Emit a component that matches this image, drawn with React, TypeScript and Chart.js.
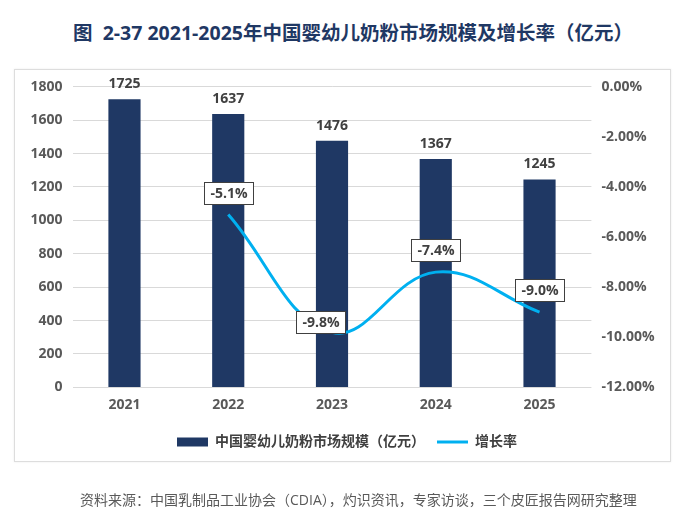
import React, { useEffect, useRef } from 'react';
import { Chart, registerables } from 'chart.js';

Chart.register(...registerables);

const titleText = '图  2-37 2021-2025年中国婴幼儿奶粉市场规模及增长率（亿元）';
const sourceText = '资料来源：中国乳制品工业协会（CDIA），灼识资讯，专家访谈，三个皮匠报告网研究整理';

const categories = ['2021', '2022', '2023', '2024', '2025'];
const marketSize = [1725, 1637, 1476, 1367, 1245];
const growthRate: (number | null)[] = [null, -5.1, -9.8, -7.4, -9.0];
const seriesNames = ['中国婴幼儿奶粉市场规模（亿元）', '增长率'];

const leftAxis = { min: 0, max: 1800, step: 200 };
const rightAxis = { min: -12, max: 0, step: 2 };

const NAVY = '#1F3864';
const CYAN = '#00B0F0';
const TEXT = '#404040';
const TICK = '#595959';
const FONT = '"Open Sans", "Noto Sans CJK SC", sans-serif';

// label box placement relative to the point (dx, dy)
const rateLabelShift: [number, number][] = [
  [0, -21],
  [0, -21],
  [-12, -10],
  [0, -22],
  [0, -22],
];

const labelPlugin = {
  id: 'valueLabels',
  afterDatasetsDraw(chart: any) {
    const ctx = chart.ctx as CanvasRenderingContext2D;
    ctx.save();
    ctx.font = `bold 14px ${FONT}`;
    ctx.fillStyle = TEXT;
    ctx.textAlign = 'center';
    ctx.textBaseline = 'alphabetic';
    const barMeta = chart.getDatasetMeta(0);
    barMeta.data.forEach((el: any, i: number) => {
      ctx.fillText(String(marketSize[i]), el.x, el.y - 11);
    });
    const lineMeta = chart.getDatasetMeta(1);
    lineMeta.data.forEach((el: any, i: number) => {
      const v = growthRate[i];
      if (v === null || v === undefined) return;
      const text = v.toFixed(1) + '%';
      const w = Math.round(ctx.measureText(text).width + 12);
      const h = 22;
      const [dx, dy] = rateLabelShift[i];
      const cx = el.x + dx;
      const cy = el.y + dy;
      const x0 = Math.round(cx - w / 2) + 0.5;
      const y0 = Math.round(cy - h / 2) + 0.5;
      ctx.fillStyle = '#FFFFFF';
      ctx.fillRect(x0, y0, w, h);
      ctx.strokeStyle = TEXT;
      ctx.lineWidth = 1;
      ctx.strokeRect(x0, y0, w, h);
      ctx.fillStyle = TEXT;
      ctx.textBaseline = 'middle';
      ctx.fillText(text, x0 + w / 2, y0 + h / 2 + 1);
    });
    ctx.restore();
  },
};

export default function App() {
  const canvasRef = useRef<HTMLCanvasElement | null>(null);

  useEffect(() => {
    if (!canvasRef.current) return;
    const chart = new Chart(canvasRef.current, {
      type: 'bar',
      data: {
        labels: categories,
        datasets: [
          {
            type: 'bar',
            label: seriesNames[0],
            data: marketSize,
            backgroundColor: NAVY,
            borderWidth: 0,
            barPercentage: 0.31,
            categoryPercentage: 1,
            yAxisID: 'y',
            order: 2,
          },
          {
            type: 'line',
            label: seriesNames[1],
            data: growthRate,
            borderColor: CYAN,
            backgroundColor: CYAN,
            borderWidth: 3,
            pointRadius: 0,
            tension: 0.4,
            yAxisID: 'y1',
            order: 1,
          },
        ] as any,
      },
      options: {
        animation: false,
        responsive: false,
        maintainAspectRatio: false,
        layout: { padding: { top: 86.7, left: 0, right: 0, bottom: 72 } },
        plugins: {
          tooltip: { enabled: false },
          title: { display: false },
          legend: {
            display: true,
            position: 'bottom',
            labels: {
              usePointStyle: true,
              pointStyleWidth: 31,
              boxHeight: 9,
              padding: 12,
              color: TEXT,
              font: { family: FONT, size: 14, weight: 'bold' },
              generateLabels: () => [
                {
                  text: seriesNames[0],
                  fillStyle: NAVY,
                  strokeStyle: NAVY,
                  lineWidth: 0,
                  pointStyle: 'rect',
                  hidden: false,
                  datasetIndex: 0,
                  fontColor: TEXT,
                },
                {
                  text: seriesNames[1],
                  fillStyle: CYAN,
                  strokeStyle: CYAN,
                  lineWidth: 3,
                  pointStyle: 'line',
                  hidden: false,
                  datasetIndex: 1,
                  fontColor: TEXT,
                },
              ],
            },
          },
        },
        scales: {
          x: {
            grid: { display: false, drawTicks: false },
            border: { display: false },
            ticks: {
              color: TICK,
              padding: 9,
              font: { family: FONT, size: 14, weight: 'bold' },
            },
            afterFit: (scale: any) => {
              scale.height = 35.6;
            },
          },
          y: {
            position: 'left',
            min: leftAxis.min,
            max: leftAxis.max,
            ticks: {
              stepSize: leftAxis.step,
              color: TICK,
              padding: 10,
              font: { family: FONT, size: 14, weight: 'bold' },
              callback: (v: any) => String(v),
            },
            grid: { color: '#D9D9D9', lineWidth: 1, drawTicks: false },
            border: { display: false },
            afterFit: (scale: any) => {
              scale.width = 72.6;
            },
          },
          y1: {
            position: 'right',
            min: rightAxis.min,
            max: rightAxis.max,
            ticks: {
              stepSize: rightAxis.step,
              color: TICK,
              padding: 10,
              font: { family: FONT, size: 14, weight: 'bold' },
              callback: (v: any) => Number(v).toFixed(2) + '%',
            },
            grid: { display: false, drawTicks: false },
            border: { display: false },
            afterFit: (scale: any) => {
              scale.width = 102.6;
            },
          },
        },
      } as any,
      plugins: [labelPlugin],
    });
    return () => chart.destroy();
  }, []);

  return (
    <div
      style={{
        position: 'absolute',
        left: 0,
        top: 0,
        width: 694,
        height: 531,
        background: '#FFFFFF',
        overflow: 'hidden',
      }}
    >
      <div
        style={{
          position: 'absolute',
          left: 0,
          top: 18,
          width: 694,
          paddingLeft: 12,
          boxSizing: 'border-box',
          textAlign: 'center',
          fontFamily: FONT,
          fontWeight: 'bold',
          fontSize: 19.5,
          lineHeight: '30px',
          color: NAVY,
          whiteSpace: 'pre',
        }}
      >
        {titleText}
      </div>
      <div
        style={{
          position: 'absolute',
          left: 14,
          top: 69,
          width: 657,
          height: 393,
          border: '1px solid #DDDDDD',
          boxSizing: 'border-box',
          boxShadow: '0 0 2px rgba(0,0,0,0.08)',
        }}
      />
      <canvas
        ref={canvasRef}
        width={694}
        height={531}
        style={{ position: 'absolute', left: 0, top: 0, width: 694, height: 531 }}
      />
      <div
        style={{
          position: 'absolute',
          left: 80,
          top: 489,
          fontFamily: FONT,
          fontSize: 14,
          lineHeight: '22px',
          color: TICK,
          whiteSpace: 'pre',
        }}
      >
        {sourceText}
      </div>
    </div>
  );
}
